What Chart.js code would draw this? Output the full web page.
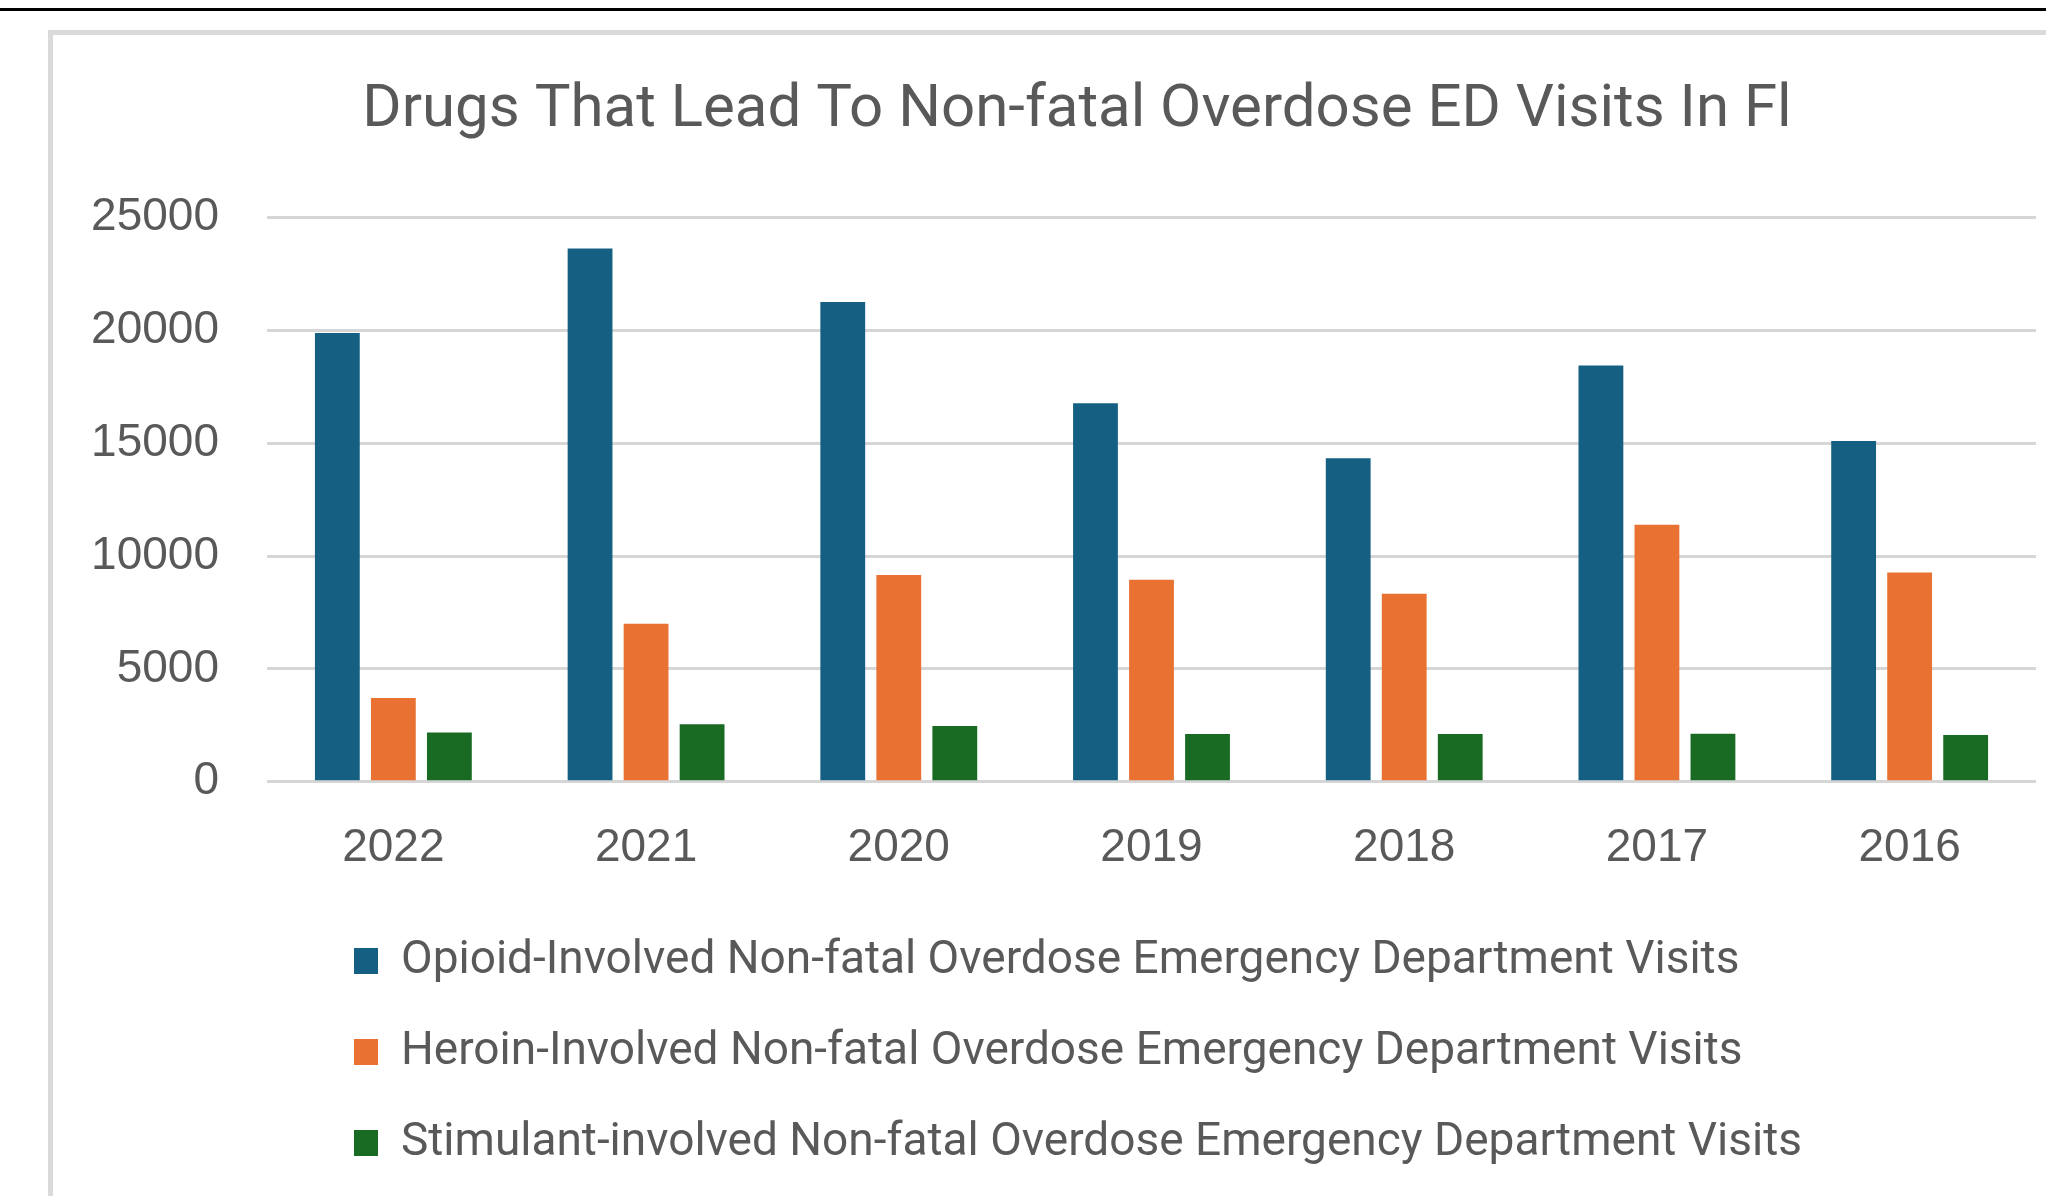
<!DOCTYPE html>
<html>
<head>
<meta charset="utf-8">
<title>Non-fatal Overdose ED Visits In FL</title>
<script src="https://cdn.jsdelivr.net/npm/chart.js@4.4.1/dist/chart.umd.min.js"></script>
<style>
  html, body { margin: 0; padding: 0; background: #fff; overflow: hidden; }
  body { width: 2046px; height: 1196px; position: relative; }
  .topRule { position: absolute; left: 0; top: 8px; width: 2046px; height: 3px; background: #000; }
  .frame { position: absolute; left: 48px; top: 30px; width: 2100px; height: 1300px;
           border-left: 5px solid #dadada; border-top: 5px solid #dadada; }
  #wrap { position: absolute; left: 0; top: 0; width: 2046px; height: 1196px; }
</style>
</head>
<body>
<div class="topRule"></div>
<div class="frame"></div>
<div id="wrap"><canvas id="edChart"></canvas></div>
<script>
const years = ["2022", "2021", "2020", "2019", "2018", "2017", "2016"];
const opioidVisits = [19880, 23630, 21260, 16770, 14330, 18440, 15100];
const heroinVisits = [3710, 7000, 9160, 8950, 8330, 11390, 9270];
const stimulantVisits = [2180, 2550, 2470, 2120, 2120, 2130, 2070];
const seriesNames = [
    "Opioid-Involved Non-fatal Overdose Emergency Department Visits",
    "Heroin-Involved Non-fatal Overdose Emergency Department Visits",
    "Stimulant-involved Non-fatal Overdose Emergency Department Visits"
];
const yTicks = [0, 5000, 10000, 15000, 20000, 25000];

const textGray = "#595959";
const axisFont = { family: "'Liberation Sans', Arial, sans-serif", size: 46 };

// the chart frame runs past the right edge, so the title is centred on the frame,
// and the legend rows sit left-aligned under the plot
const boxSpots = {
    id: "boxSpots",
    afterLayout(chart) {
        const tb = chart.titleBlock;
        const half = (tb.right - tb.left) / 2;
        tb.left = 1077 - half;
        tb.right = 1077 + half;

        const lg = chart.legend;
        lg.left = 309;
        lg.top = 893;
    }
};

function drawChart() {
    const ctx = document.getElementById("edChart").getContext("2d");

    window.edChart = new Chart(ctx, {
        type: "bar",
        data: {
            labels: years,
            datasets: [
                { label: seriesNames[0], data: opioidVisits, backgroundColor: "#156082" },
                { label: seriesNames[1], data: heroinVisits, backgroundColor: "#E97132" },
                { label: seriesNames[2], data: stimulantVisits, backgroundColor: "#196B24" }
            ]
        },
        options: {
            responsive: true,
            maintainAspectRatio: false,
            animation: false,
            layout: { padding: { left: 80, right: 10, top: 0, bottom: 6 } },
            datasets: {
                bar: { categoryPercentage: 0.665, barPercentage: 0.8 }
            },
            scales: {
                x: {
                    grid: { display: false },
                    border: { display: false },
                    ticks: { color: textGray, font: axisFont, padding: 31 }
                },
                y: {
                    min: 0,
                    max: 25000,
                    afterBuildTicks: scale => { scale.ticks = yTicks.map(v => ({ value: v })); },
                    afterFit: scale => { scale.width = 187; },
                    grid: { color: "#d6d6d6", lineWidth: 3, drawTicks: false },
                    border: { display: false },
                    ticks: {
                        color: textGray,
                        font: axisFont,
                        padding: 48,
                        callback: v => String(v)
                    }
                }
            },
            plugins: {
                title: {
                    display: true,
                    text: "Drugs That Lead To Non-fatal Overdose ED Visits In Fl",
                    color: textGray,
                    font: { family: "Roboto", size: 60, weight: "normal" },
                    padding: { top: 75, bottom: 70.5 }
                },
                legend: {
                    display: true,
                    position: "bottom",
                    align: "start",
                    labels: {
                        color: textGray,
                        font: { family: "Roboto", size: 46 },
                        boxWidth: 24,
                        boxHeight: 26,
                        padding: 45
                    }
                },
                tooltip: { enabled: false }
            }
        },
        plugins: [boxSpots]
    });
}

drawChart();
</script>
</body>
</html>
